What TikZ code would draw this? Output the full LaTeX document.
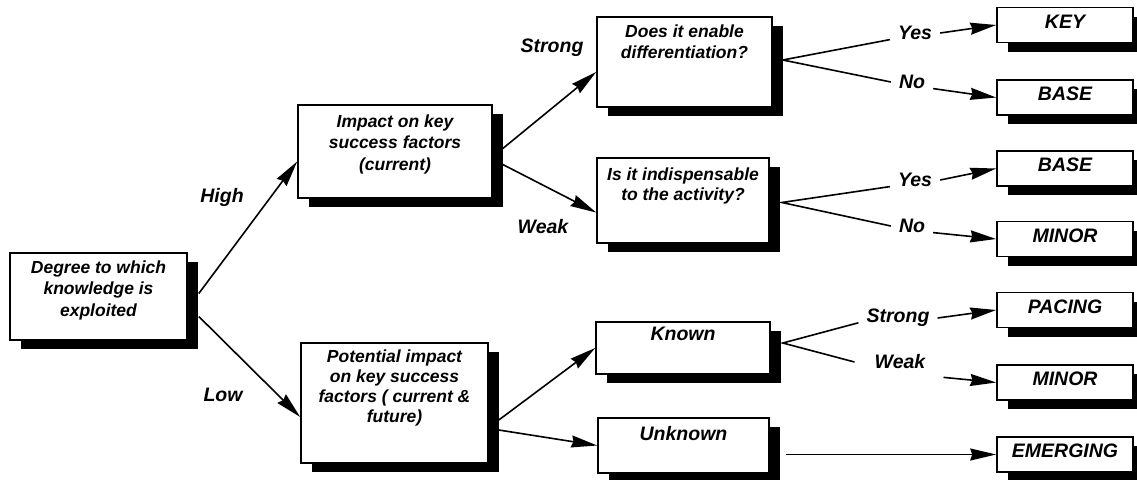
\documentclass[tikz,border=0pt]{standalone}
\usepackage{fontspec}
\setmainfont{Liberation Sans}
\usepackage{tikz}
\usetikzlibrary{arrows.meta, shadows, calc}

\begin{document}
\begin{tikzpicture}[
    x=1pt, y=-1pt,
    dropbox/.style={draw, fill=white, line width=1.6pt,
      drop shadow={shadow xshift=11pt, shadow yshift=-9pt, fill=black, opacity=1}},
    endbox/.style={dropbox, minimum width=136pt, minimum height=35pt, inner sep=0pt,
      font=\fontsize{19.5}{23}\selectfont\bfseries\itshape, text height=14pt, text depth=8pt},
    boxtxt/.style={anchor=north, inner sep=0pt, align=center,
      font=\fontsize{17.5}{21.5}\selectfont\bfseries\itshape},
    lbl/.style={font=\fontsize{19.5}{23}\selectfont\bfseries\itshape},
    flow/.style={-{Stealth[length=26pt, width=12pt, inset=2pt]}, line width=1.6pt},
    branch/.style={line width=1.6pt},
]
  \useasboundingbox (0,0) rectangle (1137,479);

  % question boxes
  \node[dropbox, minimum width=177pt, minimum height=87pt,
    label={[boxtxt, yshift=-8pt]north:{Degree to which\\knowledge is\\exploited}}] (root) at (98.5,296.5) {};
  \node[dropbox, minimum width=194pt, minimum height=93pt,
    label={[boxtxt, yshift=-10pt]north:{Impact on key\\success factors\\(current)}}] (impact) at (395,151.5) {};
  \node[dropbox, minimum width=187pt, minimum height=120pt,
    label={[boxtxt, yshift=-7pt, font=\fontsize{17.5}{20}\selectfont\bfseries\itshape]north:{Potential impact\\on key success\\factors ( current \&\\future)}}] (potential) at (394.5,403) {};
  \node[dropbox, minimum width=175pt, minimum height=90pt,
    label={[boxtxt, yshift=-8pt]north:{Does it enable\\differentiation?}}] (does) at (684.5,62) {};
  \node[dropbox, minimum width=172pt, minimum height=85pt,
    label={[boxtxt, yshift=-10pt, font=\fontsize{17.5}{20}\selectfont\bfseries\itshape]north:{Is it indispensable\\to the activity?}}] (isit) at (683,200.5) {};
  \node[dropbox, minimum width=174pt, minimum height=52pt,
    label={[boxtxt, yshift=-6pt, font=\fontsize{19.5}{23}\selectfont\bfseries\itshape]north:Known}] (known) at (683,348) {};
  \node[dropbox, minimum width=171pt, minimum height=55pt,
    label={[boxtxt, yshift=-9pt, font=\fontsize{19.5}{23}\selectfont\bfseries\itshape]north:Unknown}] (unknown) at (683.5,445.5) {};

  % outcomes
  \node[endbox] (key) at (1065,25) {KEY};
  \node[endbox] (base1) at (1065,97.5) {BASE};
  \node[endbox] (base2) at (1065,168.5) {BASE};
  \node[endbox] (minor1) at (1065,239) {MINOR};
  \node[endbox] (pacing) at (1065,310) {PACING};
  \node[endbox] (minor2) at (1065,382.5) {MINOR};
  \node[endbox] (emerg) at (1065,454.5) {EMERGING};

  % branch labels
  \node[lbl] (high) at (222,197) {High};
  \node[lbl] (low) at (223,395) {Low};
  \node[lbl] (strong1) at (552,48) {Strong};
  \node[lbl] (weak1) at (543,227) {Weak};
  \node[lbl, inner sep=8pt] (yes1) at (915,33) {Yes};
  \node[lbl, inner sep=8pt] (no1) at (912,82) {No};
  \node[lbl, inner sep=8pt] (yes2) at (915,180) {Yes};
  \node[lbl, inner sep=8pt] (no2) at (912,226) {No};
  \node[lbl, inner sep=8pt] (strong2) at (898,318) {Strong};
  \node[lbl, inner sep=8pt] (weak2) at (900,362) {Weak};

  \draw[flow] ($(root.east)+(11,-3)$) -- ($(impact.west)+(0,10)$);
  \draw[flow] ($(root.east)+(11,20)$) -- ($(potential.west)+(0,14)$);
  \draw[flow] ($(impact.east)+(10,-3)$) -- ($(does.west)+(0,10)$);
  \draw[flow] ($(impact.east)+(10,13)$) -- ($(isit.west)+(0,12)$);
  \draw[flow] ($(potential.east)+(10,17)$) -- (known.west);
  \draw[flow] ($(potential.east)+(10,27)$) -- (unknown.west);

  \draw[branch] (yes1.base west) -- ($(does.east)+(10,-2)$) -- (no1.west);
  \draw[flow] (yes1.east) -- (key.west);
  \draw[flow] (no1.base east) -- (base1.west);

  \draw[branch] (yes2.base west) -- ($(isit.east)+(12,2)$) -- (no2.west);
  \draw[flow] (yes2.east) -- (base2.west);
  \draw[flow] (no2.base east) -- (minor1.west);

  \draw[branch] (strong2.base west) -- ($(known.east)+(12,-5)$) -- ($(weak2.west)+(-12,0)$);
  \draw[flow] (strong2.east) -- (pacing.west);
  \draw[flow] ($(weak2.south east)+(10,0)$) -- (minor2.west);

  \draw[flow] ([xshift=16pt]unknown.east |- emerg.west) -- (emerg.west);
\end{tikzpicture}
\end{document}
